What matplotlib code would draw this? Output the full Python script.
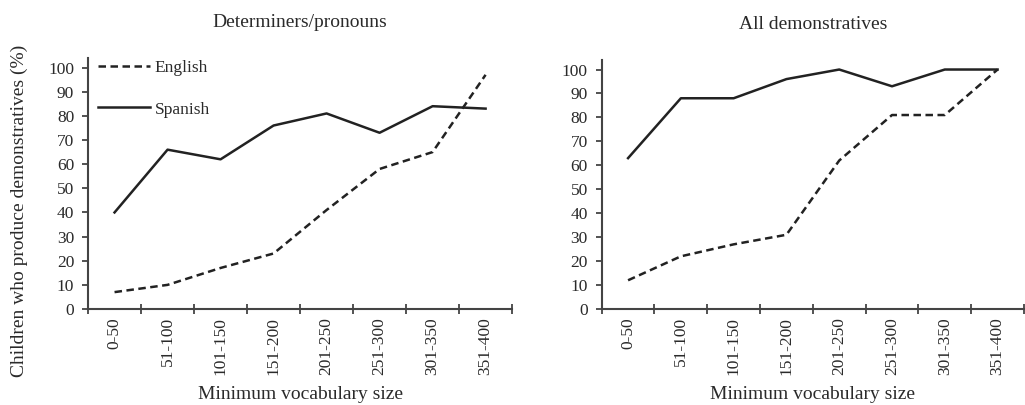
import matplotlib
matplotlib.use("Agg")
import matplotlib.pyplot as plt

plt.rcParams['font.family'] = ['Liberation Serif', 'DejaVu Serif']

categories = ["0-50", "51-100", "101-150", "151-200", "201-250", "251-300", "301-350", "351-400"]
yticks = [0, 10, 20, 30, 40, 50, 60, 70, 80, 90, 100]

det_english = [7, 10, 17, 23, 41, 58, 65, 97]
det_spanish = [40, 66, 62, 76, 81, 73, 84, 83]
all_english = [12, 22, 27, 31, 62, 81, 81, 100]
all_spanish = [63, 88, 88, 96, 100, 93, 100, 100]

fig = plt.figure(figsize=(10.25, 4.05), dpi=100)
ax1 = fig.add_axes([0.0859, 0.237, 0.4137, 0.62])
ax2 = fig.add_axes([0.587, 0.237, 0.412, 0.615])

line_col = '#222222'
spine_col = '#444444'
text_col = '#2a2a2a'
fs = 12.5

def style(ax, title, eng, spa):
    x = list(range(len(categories)))
    ax.plot(x, eng, color=line_col, lw=1.8, linestyle=(0, (3, 1.8)), label='English')
    ax.plot(x, spa, color=line_col, lw=1.8, linestyle='-', label='Spanish')
    ax.set_xlim(-0.5, len(categories) - 0.5)
    ax.set_ylim(0, 104)
    ax.set_yticks(yticks)
    ax.set_xticks([i - 0.5 for i in range(len(categories) + 1)])
    ax.set_xticklabels([])
    ax.set_xticks(x, minor=True)
    ax.set_xticklabels(categories, minor=True, rotation=90, fontsize=fs, color=text_col)
    ax.tick_params(axis='x', which='minor', length=0, pad=6)
    ax.tick_params(axis='x', which='major', direction='inout', length=7, width=1.3, color=spine_col)
    ax.tick_params(axis='y', direction='out', length=4, width=1.3, color=spine_col,
                   labelsize=fs, labelcolor=text_col, pad=6)
    for s in ['top', 'right']:
        ax.spines[s].set_visible(False)
    for s in ['left', 'bottom']:
        ax.spines[s].set_color(spine_col)
        ax.spines[s].set_linewidth(1.5)
    ax.set_title(title, fontsize=14, pad=22, color=text_col)
    ax.set_xlabel('Minimum vocabulary size', fontsize=14, labelpad=8, color=text_col)

style(ax1, 'Determiners/pronouns', det_english, det_spanish)
style(ax2, 'All demonstratives', all_english, all_spanish)
ax1.set_ylabel('Children who produce demonstratives (%)', fontsize=14, color=text_col)
ax1.yaxis.set_label_coords(-0.142, 0.39)

leg = ax1.legend(loc='upper left', bbox_to_anchor=(-0.005, 1.04), frameon=False, fontsize=fs,
                 handlelength=3.0, labelspacing=1.45, handletextpad=0.25, borderaxespad=0.3)
for t in leg.get_texts():
    t.set_color(text_col)

fig.savefig('out.png', dpi=100)
